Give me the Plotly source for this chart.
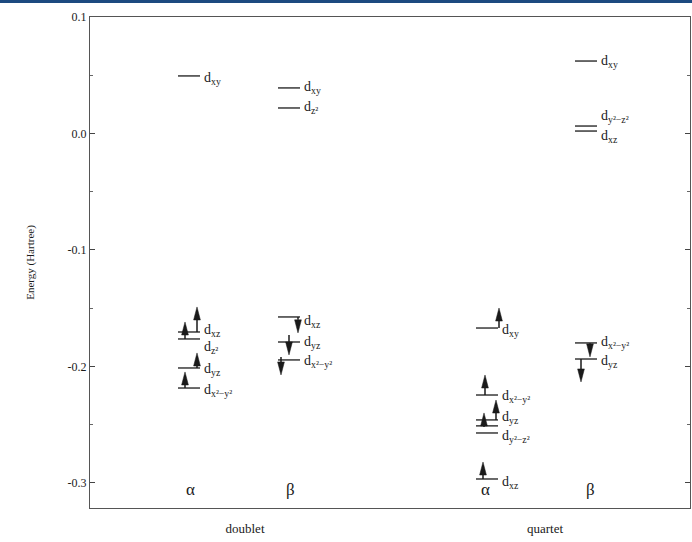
import plotly.graph_objects as go

# ---------------- data ----------------
columns = ["doublet α", "doublet β", "quartet α", "quartet β"]
column_x = [0.99, 1.99, 3.97, 4.96]
spin_labels = ["α", "β", "α", "β"]
spin_label_x = [1.0, 2.0, 3.95, 5.0]
spin_label_energy = -0.306

# orbital energy levels (Hartree)
doublet_alpha_levels = [0.0494, -0.1704, -0.1764, -0.2013, -0.2185]
doublet_beta_levels = [0.0391, 0.0219, -0.1575, -0.1790, -0.1944]
quartet_alpha_levels = [-0.1670, -0.2245, -0.2459, -0.2510, -0.2571, -0.2966]
quartet_beta_levels = [0.0622, 0.0064, 0.0021, -0.1798, -0.1936]

# orbital labels and their vertical positions
doublet_alpha_labels = ["d<sub>xy</sub>", "d<sub>xz</sub>", "d<sub>z²</sub>", "d<sub>yz</sub>", "d<sub>x²−y²</sub>"]
doublet_alpha_label_energy = [0.0468, -0.1687, -0.1833, -0.2030, -0.2202]
doublet_beta_labels = ["d<sub>xy</sub>", "d<sub>z²</sub>", "d<sub>xz</sub>", "d<sub>yz</sub>", "d<sub>x²−y²</sub>"]
doublet_beta_label_energy = [0.0391, 0.0219, -0.1618, -0.1790, -0.1961]
quartet_alpha_labels = ["d<sub>xy</sub>", "d<sub>x²−y²</sub>", "d<sub>yz</sub>", "d<sub>y²−z²</sub>", "d<sub>xz</sub>"]
quartet_alpha_label_energy = [-0.1687, -0.2262, -0.2442, -0.2605, -0.3000]
quartet_beta_labels = ["d<sub>xy</sub>", "d<sub>y²−z²</sub>", "d<sub>xz</sub>", "d<sub>x²−y²</sub>", "d<sub>yz</sub>"]
quartet_beta_label_energy = [0.0622, 0.0142, -0.0030, -0.1790, -0.1961]

# electron arrows: column index, x offset, start energy, end energy
arrow_column = [0, 0, 0, 0, 1, 1, 1, 2, 2, 2, 2, 2, 3, 3]
arrow_offset = [0.08, -0.04, 0.08, -0.04, 0.09, 0.0, -0.08, 0.12, -0.02, 0.09, -0.03, -0.04, 0.04, -0.05]
arrow_start = [-0.1704, -0.1764, -0.2013, -0.2185,
               -0.1575, -0.1730, -0.1918,
               -0.1670, -0.2245, -0.2459, -0.2519, -0.2966,
               -0.1798, -0.1936]
arrow_end = [-0.1489, -0.1618, -0.1884, -0.2047,
             -0.1712, -0.1901, -0.2073,
             -0.1498, -0.2073, -0.2288, -0.2399, -0.2820,
             -0.1918, -0.2133]

category_ticks = [1.55, 4.55]
category_labels = ["doublet", "quartet"]
y_ticks = [0.1, 0.0, -0.1, -0.2, -0.3]
y_tick_labels = ["0.1", "0.0", "-0.1", "-0.2", "-0.3"]

# ---------------- figure ----------------
SERIF = "Liberation Serif"
INK = "#1a1a1a"
half_width = 0.11
head_len = 0.0112
head_half = 0.034

all_levels = [doublet_alpha_levels, doublet_beta_levels, quartet_alpha_levels, quartet_beta_levels]
all_labels = [doublet_alpha_labels, doublet_beta_labels, quartet_alpha_labels, quartet_beta_labels]
all_label_e = [doublet_alpha_label_energy, doublet_beta_label_energy,
               quartet_alpha_label_energy, quartet_beta_label_energy]

fig = go.Figure()

lx, ly = [], []
for cx, levels in zip(column_x, all_levels):
    for e in levels:
        lx += [cx - half_width, cx + half_width, None]
        ly += [e, e, None]
fig.add_trace(go.Scatter(x=lx, y=ly, mode="lines", line=dict(color=INK, width=1.3),
                         hoverinfo="skip", showlegend=False))

sx, sy, hx, hy = [], [], [], []
for ci, off, e0, e1 in zip(arrow_column, arrow_offset, arrow_start, arrow_end):
    x = column_x[ci] + off
    sign = 1 if e1 > e0 else -1
    base = e1 - sign * head_len
    sx += [x, x, None]
    sy += [e0, base, None]
    hx += [x - head_half, x + head_half, x, x - head_half, None]
    hy += [base, base, e1, base, None]
fig.add_trace(go.Scatter(x=sx, y=sy, mode="lines", line=dict(color=INK, width=1.5),
                         hoverinfo="skip", showlegend=False))
fig.add_trace(go.Scatter(x=hx, y=hy, mode="lines", fill="toself", fillcolor=INK,
                         line=dict(color=INK, width=0.5), hoverinfo="skip", showlegend=False))

for cx, labels, les in zip(column_x, all_labels, all_label_e):
    for t, e in zip(labels, les):
        fig.add_annotation(x=cx + half_width + 0.02, y=e, text=t, showarrow=False,
                           xanchor="left", yanchor="middle",
                           font=dict(family=SERIF, size=14, color=INK))

for t, x in zip(spin_labels, spin_label_x):
    fig.add_annotation(x=x, y=spin_label_energy, text=t, showarrow=False,
                       xanchor="center", yanchor="middle",
                       font=dict(family=SERIF, size=17, color=INK))

fig.add_shape(type="rect", xref="paper", yref="paper", x0=-0.2, x1=1.05,
              y0=1 + 14 / 491, y1=1 + 18 / 491, fillcolor="#1d4a80", line=dict(width=0),
              layer="above")

fig.update_layout(
    width=692, height=542,
    margin=dict(l=90, r=2, t=17, b=34, autoexpand=False),
    paper_bgcolor="white", plot_bgcolor="white",
    font=dict(family=SERIF, color=INK),
    xaxis=dict(range=[0, 6], tickvals=category_ticks, ticktext=category_labels,
               ticks="", showgrid=False, zeroline=False, showline=True, linecolor="#555",
               linewidth=1.2, mirror=True, tickfont=dict(family=SERIF, size=13, color=INK),
               ticklabelstandoff=8, automargin=False),
    yaxis=dict(range=[-0.3215, 0.1], tickvals=y_ticks, ticktext=y_tick_labels,
               ticks="inside", ticklen=5, tickcolor="#444", showgrid=False, zeroline=False,
               showline=True, linecolor="#555", linewidth=1.2, mirror="ticks",
               tickfont=dict(family=SERIF, size=12, color=INK), automargin=False,
               minor=dict(dtick=0.05, ticks="inside", ticklen=3, tickcolor="#666"),
               title=dict(text="Energy (Hartree)", font=dict(family=SERIF, size=11, color=INK),
                          standoff=30)),
)

fig.write_html("out.html", config={"displayModeBar": False},
               post_script="document.body.style.margin='0';")
